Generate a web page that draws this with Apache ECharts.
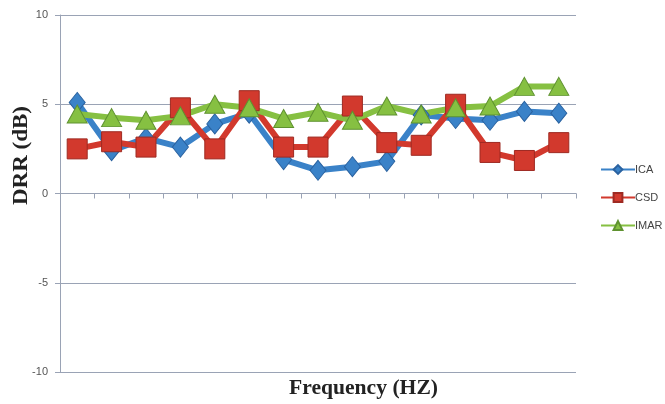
<!DOCTYPE html>
<html>
<head>
<meta charset="utf-8">
<script src="https://cdn.jsdelivr.net/npm/echarts@6/dist/echarts.min.js"></script>
<style>html,body{margin:0;padding:0;background:#fff;}#c{width:665px;height:404px;}</style>
</head>
<body>
<div id="c"></div>
<script>
var categories = ['1','2','3','4','5','6','7','8','9','10','11','12','13','14','15'];
var icaValues  = [5.1, 2.4, 3.1, 2.6, 3.9, 4.5, 1.9, 1.3, 1.5, 1.8, 4.4, 4.2, 4.1, 4.6, 4.5];
var csdValues  = [2.5, 2.9, 2.6, 4.8, 2.5, 5.2, 2.6, 2.6, 4.9, 2.85, 2.7, 5.0, 2.3, 1.85, 2.85];
var imarValues = [4.45, 4.25, 4.1, 4.35, 5.0, 4.8, 4.2, 4.55, 4.1, 4.9, 4.45, 4.8, 4.9, 6.0, 6.0];
var yTicks = [-10, -5, 0, 5, 10];

var chart = echarts.init(document.getElementById('c'), null, {renderer: 'canvas'});
function mk(name, data, color, border, symbol, size) {
  return {
    name: name, type: 'line', data: data, symbol: symbol, symbolSize: size,
    lineStyle: {color: color, width: 6},
    itemStyle: {color: color, borderColor: border, borderWidth: 1},
    emphasis: {disabled: true}, animation: false
  };
}
chart.setOption({
  animation: false,
  grid: {left: 60, right: 89, top: 15, bottom: 32, containLabel: false},
  legend: {
    orient: 'vertical', left: 595, top: 159, itemGap: 17,
    itemWidth: 34, itemHeight: 11,
    lineStyle: {width: 2},
    textStyle: {color: '#444', fontSize: 11, fontFamily: 'Liberation Sans', padding: [0,0,0,-5]},
    data: ['ICA', 'CSD', 'IMAR']
  },
  xAxis: {
    type: 'category', data: categories, boundaryGap: true,
    axisLine: {onZero: true, lineStyle: {color: '#9aa3b5', width: 1}},
    axisTick: {show: true, alignWithLabel: false, length: 5, inside: false, lineStyle: {color: '#9aa3b5'}},
    axisLabel: {show: false},
    splitLine: {show: false}
  },
  yAxis: {
    type: 'value', min: yTicks[0], max: yTicks[yTicks.length-1], interval: 5,
    axisLine: {show: true, lineStyle: {color: '#9aa3b5', width: 1}},
    axisTick: {show: true, length: 5, lineStyle: {color: '#9aa3b5'}},
    axisLabel: {color: '#555', fontSize: 11, fontFamily: 'Liberation Sans', margin: 12},
    splitLine: {show: true, lineStyle: {color: '#9aa3b5', width: 1}}
  },
  graphic: [
    {type: 'text', x: 12, y: 205, rotation: Math.PI/2, scaleX: 1.15,
     style: {text: 'DRR (dB)', fontFamily: 'Liberation Serif', fontWeight: 'bold', fontSize: 20, fill: '#222', textVerticalAlign: 'top'}},
    {type: 'text', x: 289, y: 379, scaleX: 1.08,
     style: {text: 'Frequency (HZ)', fontFamily: 'Liberation Serif', fontWeight: 'bold', fontSize: 20, fill: '#222'}}
  ],
  series: [
    mk('ICA', icaValues, '#3a82c8', '#2a62a0', 'diamond', [16, 20]),
    mk('CSD', csdValues, '#d2392d', '#9e2a22', 'rect', 20),
    mk('IMAR', imarValues, '#86c042', '#5f9230', 'triangle', [20, 18])
  ]
});
</script>
</body>
</html>
